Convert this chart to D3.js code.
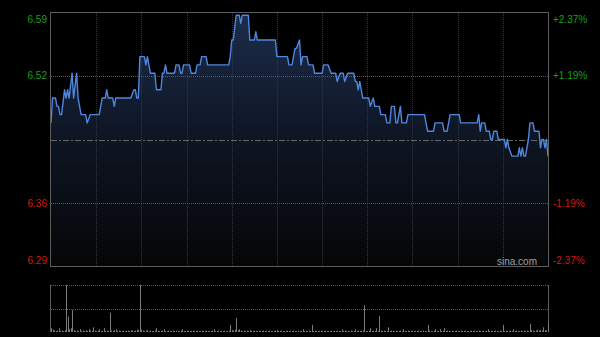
<!DOCTYPE html>
<html>
<head>
<meta charset="utf-8">
<script src="https://cdn.jsdelivr.net/npm/d3@7"></script>
<style>
  html, body { margin: 0; padding: 0; background: #000; }
  svg { display: block; font-family: "Liberation Sans", Arial, sans-serif; }
</style>
</head>
<body>
<script>
const width = 600;
const height = 337;

// previous close and the percent levels shown on both sides
const preClose = 6.44;
const pctTicks = [2.37, 1.19, -1.19, -2.37];
const priceLabels = ["6.59", "6.52", "6.36", "6.29"];
const pctLabels = ["+2.37%", "+1.19%", "-1.19%", "-2.37%"];

// minutes since 09:30 (330 = 16:00, lunch removed) and the price read at that minute
const minutes = [
    0, 1, 3, 4, 5, 6, 7, 9, 10, 11, 12, 14, 15, 17, 18, 20, 23, 24, 26, 32,
    34, 36, 37, 38, 41, 42, 43, 53, 55, 56, 57, 58, 59, 62, 63, 64, 65, 66, 69, 70,
    73, 74, 75, 76, 77, 82, 83, 85, 86, 87, 88, 92, 93, 96, 97, 99, 100, 103, 104, 118,
    119, 120, 121, 123, 125, 126, 127, 131, 132, 135, 136, 137, 149, 150, 157, 158, 160, 161, 162, 163,
    165, 166, 167, 170, 171, 174, 175, 180, 181, 184, 186, 189, 190, 192, 194, 195, 197, 201, 202, 203,
    204, 205, 207, 211, 212, 214, 215, 218, 219, 222, 223, 225, 226, 228, 229, 230, 232, 233, 236, 237,
    248, 250, 254, 255, 260, 261, 263, 264, 265, 271, 272, 283, 284, 285, 286, 288, 289, 291, 292, 293,
    294, 296, 297, 301, 302, 303, 304, 306, 310, 311, 312, 313, 314, 315, 317, 318, 320, 321, 324, 325,
    326, 327, 328, 329, 330
];
const prices = [
    6.46, 6.49, 6.49, 6.48, 6.48, 6.47, 6.47, 6.50, 6.49, 6.50, 6.49, 6.52, 6.49, 6.52, 6.49, 6.47, 6.47, 6.46, 6.47, 6.47,
    6.49, 6.49, 6.50, 6.49, 6.49, 6.48, 6.49, 6.49, 6.50, 6.50, 6.49, 6.49, 6.54, 6.54, 6.53, 6.54, 6.53, 6.52, 6.52, 6.50,
    6.50, 6.52, 6.52, 6.53, 6.52, 6.52, 6.53, 6.53, 6.52, 6.52, 6.53, 6.53, 6.52, 6.52, 6.53, 6.53, 6.54, 6.54, 6.53, 6.53,
    6.54, 6.56, 6.56, 6.59, 6.59, 6.58, 6.59, 6.59, 6.56, 6.56, 6.57, 6.56, 6.56, 6.54, 6.54, 6.53, 6.53, 6.54, 6.55, 6.55,
    6.56, 6.53, 6.54, 6.54, 6.53, 6.53, 6.52, 6.52, 6.53, 6.53, 6.52, 6.52, 6.51, 6.52, 6.52, 6.51, 6.52, 6.52, 6.51, 6.51,
    6.50, 6.51, 6.49, 6.49, 6.48, 6.49, 6.48, 6.48, 6.47, 6.47, 6.46, 6.46, 6.48, 6.48, 6.46, 6.46, 6.48, 6.46, 6.46, 6.47,
    6.47, 6.45, 6.45, 6.46, 6.46, 6.45, 6.45, 6.46, 6.47, 6.47, 6.46, 6.46, 6.47, 6.45, 6.46, 6.46, 6.45, 6.45, 6.44, 6.44,
    6.45, 6.45, 6.44, 6.44, 6.43, 6.44, 6.43, 6.42, 6.42, 6.43, 6.42, 6.43, 6.42, 6.42, 6.44, 6.46, 6.46, 6.45, 6.45, 6.43,
    6.44, 6.44, 6.43, 6.44, 6.42
];

// volume per minute, relative units (100 = top of the lower panel)
const volumes = [
    8, 5, 3, 2, 3, 8, 2, 3, 2, 4,
    100, 33, 6, 8, 47, 4, 2, 3, 2, 6,
    2, 3, 2, 4, 2, 6, 3, 2, 10, 3,
    2, 3, 6, 2, 3, 8, 2, 3, 2, 41,
    3, 2, 4, 6, 2, 3, 2, 2, 3, 2,
    2, 3, 2, 4, 3, 2, 3, 5, 4, 100,
    5, 3, 2, 3, 4, 2, 3, 2, 2, 3,
    8, 3, 2, 2, 3, 6, 2, 2, 3, 2,
    2, 3, 2, 3, 2, 2, 3, 6, 2, 2,
    3, 2, 2, 2, 3, 2, 2, 3, 2, 2,
    3, 2, 2, 3, 2, 2, 2, 3, 6, 2,
    2, 3, 2, 2, 2, 3, 2, 2, 3, 15,
    4, 3, 5, 30, 4, 6, 3, 2, 3, 2,
    3, 2, 4, 2, 2, 3, 2, 2, 3, 2,
    2, 3, 2, 2, 2, 3, 2, 2, 2, 3,
    4, 2, 2, 3, 2, 2, 2, 3, 2, 2,
    2, 3, 2, 2, 3, 2, 2, 6, 2, 2,
    2, 3, 2, 15, 2, 3, 2, 2, 2, 3,
    2, 2, 3, 2, 2, 2, 3, 2, 2, 2,
    3, 2, 2, 6, 2, 3, 2, 2, 2, 3,
    2, 2, 6, 2, 3, 2, 3, 3, 57, 2,
    2, 3, 8, 2, 3, 2, 8, 2, 34, 3,
    2, 3, 2, 2, 10, 2, 3, 2, 2, 3,
    2, 2, 3, 2, 6, 2, 2, 3, 2, 2,
    3, 2, 2, 2, 3, 2, 2, 3, 2, 2,
    15, 3, 2, 2, 3, 6, 2, 2, 6, 2,
    3, 8, 2, 3, 2, 2, 3, 2, 2, 3,
    2, 2, 3, 2, 2, 3, 2, 2, 2, 3,
    2, 3, 2, 2, 3, 2, 2, 3, 2, 2,
    6, 2, 3, 2, 2, 3, 2, 2, 3, 2,
    15, 2, 3, 2, 2, 3, 2, 6, 2, 3,
    2, 2, 3, 2, 3, 2, 3, 2, 17, 4,
    3, 2, 3, 5, 3, 4, 3, 10, 4, 3,
    19
];

const gridMinutes = [30, 60, 90, 120, 150, 180, 210, 240, 270, 300];

let plot = {top: 13, bottom: 266, left: 51, right: 548};
let vol = {top: 285, bottom: 332};

let svg = d3.select("body")
    .append("svg")
    .attr("width", width)
    .attr("height", height);

svg.append("rect")
    .attr("width", width)
    .attr("height", height)
    .attr("fill", "#000");

let xScale = d3.scaleLinear()
    .domain([0, 330])
    .range([plot.left, plot.right]);

let yScale = d3.scaleLinear()
    .domain([preClose * (1 - 0.0237), preClose * (1 + 0.0237)])
    .range([plot.bottom, plot.top]);

let volScale = d3.scaleLinear()
    .domain([0, 100])
    .range([vol.bottom, vol.top]);

let points = minutes.map((m, i) => ({m: m, p: prices[i]}));

// gradient under the line
let defs = svg.append("defs");
let grad = defs.append("linearGradient")
    .attr("id", "fill")
    .attr("gradientUnits", "userSpaceOnUse")
    .attr("x1", 0).attr("x2", 0)
    .attr("y1", plot.top).attr("y2", plot.bottom);
grad.append("stop").attr("offset", 0).attr("stop-color", "#1c2d4b");
grad.append("stop").attr("offset", 0.5).attr("stop-color", "#0e1523");
grad.append("stop").attr("offset", 1).attr("stop-color", "#050607");

svg.append("path")
    .datum(points)
    .attr("fill", "url(#fill)")
    .attr("d", d3.area()
        .x(d => xScale(d.m))
        .y0(plot.bottom)
        .y1(d => yScale(d.p)));

/////////////////
// Grid lines  //
/////////////////
svg.append("g")
    .selectAll("line")
    .data(gridMinutes)
    .join("line")
    .attr("x1", d => Math.round(xScale(d)) + 0.5)
    .attr("x2", d => Math.round(xScale(d)) + 0.5)
    .attr("y1", plot.top)
    .attr("y2", plot.bottom)
    .attr("stroke", "#363636")
    .attr("stroke-dasharray", "1,1");

svg.append("g")
    .selectAll("line")
    .data(pctTicks.filter(d => Math.abs(d) < 2))
    .join("line")
    .attr("x1", plot.left)
    .attr("x2", plot.right)
    .attr("y1", d => Math.round(yScale(preClose * (1 + d / 100))) + 0.5)
    .attr("y2", d => Math.round(yScale(preClose * (1 + d / 100))) + 0.5)
    .attr("stroke", "#5a5a5a")
    .attr("stroke-dasharray", "1,1");

// previous close line
svg.append("line")
    .attr("x1", plot.left)
    .attr("x2", plot.right)
    .attr("y1", Math.round(yScale(preClose)) + 0.5)
    .attr("y2", Math.round(yScale(preClose)) + 0.5)
    .attr("stroke", "#666")
    .attr("stroke-dasharray", "6,2,2,2");

// price line
svg.append("path")
    .datum(points)
    .attr("fill", "none")
    .attr("stroke", "#4f86de")
    .attr("stroke-width", 1.4)
    .attr("stroke-linejoin", "round")
    .attr("d", d3.line()
        .x(d => xScale(d.m))
        .y(d => yScale(d.p)));

// frame
svg.append("rect")
    .attr("x", plot.left - 0.5)
    .attr("y", plot.top - 0.5)
    .attr("width", plot.right - plot.left + 1)
    .attr("height", plot.bottom - plot.top + 1)
    .attr("fill", "none")
    .attr("stroke", "#5c5c5c");

////////////
// Labels //
////////////
let tickY = (d, i) => {
    let yy = yScale(preClose * (1 + d / 100));
    // first and last labels sit inside the frame
    if (i === 0) return yy + 6;
    if (i === pctTicks.length - 1) return yy - 6;
    return yy;
};
let colour = d => d > 0 ? "#13a013" : "#d41a0e";

svg.append("g")
    .selectAll("text")
    .data(pctTicks)
    .join("text")
    .attr("x", 47)
    .attr("y", tickY)
    .attr("dy", "0.35em")
    .attr("text-anchor", "end")
    .attr("font-size", 10)
    .attr("fill", colour)
    .text((d, i) => priceLabels[i]);

svg.append("g")
    .selectAll("text")
    .data(pctTicks)
    .join("text")
    .attr("x", 553)
    .attr("y", tickY)
    .attr("dy", "0.35em")
    .attr("text-anchor", "start")
    .attr("font-size", 10)
    .attr("fill", colour)
    .text((d, i) => pctLabels[i]);

svg.append("text")
    .attr("x", 537)
    .attr("y", 265)
    .attr("text-anchor", "end")
    .attr("font-size", 10)
    .attr("fill", "#a0a0a0")
    .text("sina.com");

//////////////////
// Volume panel //
//////////////////
[vol.top, (vol.top + vol.bottom) / 2].forEach(yy => {
    svg.append("line")
        .attr("x1", plot.left)
        .attr("x2", plot.right)
        .attr("y1", Math.round(yy) + 0.5)
        .attr("y2", Math.round(yy) + 0.5)
        .attr("stroke", "#5a5a5a")
        .attr("stroke-dasharray", "1,1");
});

[plot.left - 0.5, plot.right + 0.5].forEach(xx => {
    svg.append("line")
        .attr("x1", xx)
        .attr("x2", xx)
        .attr("y1", vol.top)
        .attr("y2", vol.bottom)
        .attr("stroke", "#5c5c5c");
});

svg.append("g")
    .selectAll("line")
    .data(volumes)
    .join("line")
    .attr("x1", (d, i) => Math.round(xScale(i)) + 0.5)
    .attr("x2", (d, i) => Math.round(xScale(i)) + 0.5)
    .attr("y1", vol.bottom)
    .attr("y2", d => volScale(d))
    .attr("stroke", "#7a7a7a")
    .attr("stroke-width", 1);
</script>
</body>
</html>
